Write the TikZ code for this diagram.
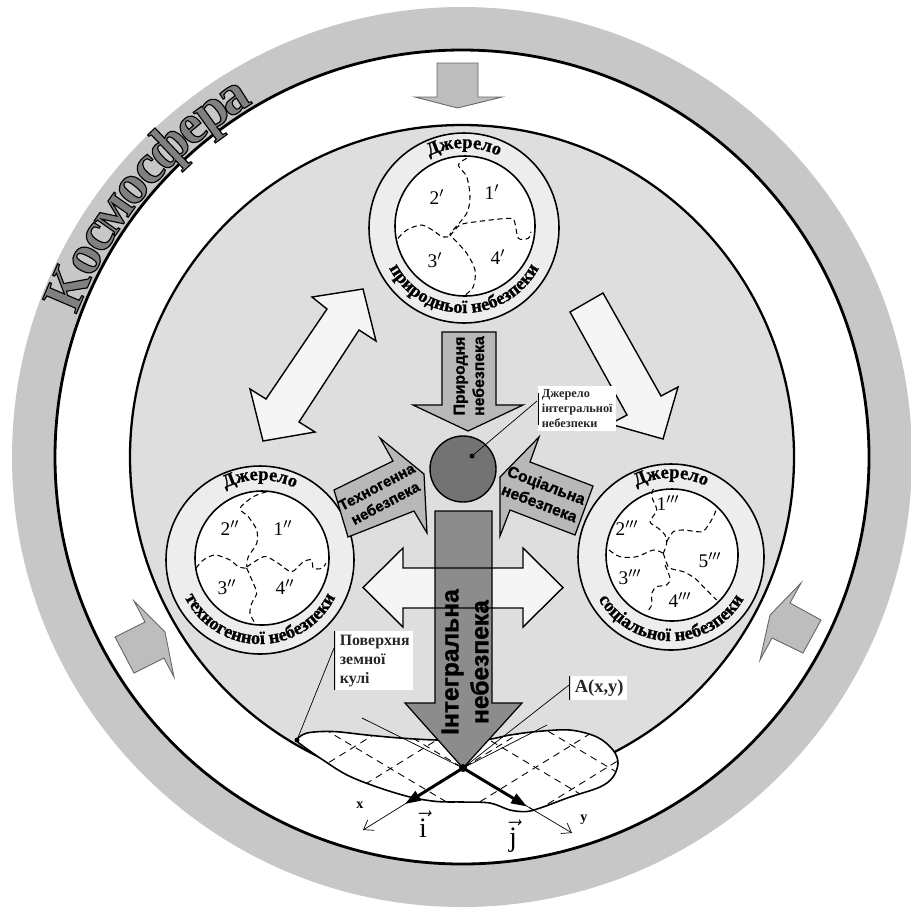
\documentclass[tikz,border=0pt]{standalone}
\usepackage{fontspec}
\setmainfont{Liberation Serif}
\newfontfamily\sansfam{Liberation Sans}[FakeBold=1.2]
\newfontfamily\cosmofont{Liberation Serif}[FakeBold=2]
\newfontfamily\ringfam{Liberation Serif}[FakeBold=1]
\usetikzlibrary{decorations.text,arrows.meta,calc}
\newcommand\myRingFont{\ringfam\bfseries\fontsize{10.5}{10.5}\selectfont}
\begin{document}
\begin{tikzpicture}[x=0.02cm,y=-0.02cm,
  outarrow/.style={draw=black,line width=0.8pt,fill=black!4,line join=miter},
  grayarrow/.style={draw=black!60,line width=0.5pt,fill=black!26,line join=miter},
  dotarrow/.style={draw=black,line width=0.7pt,fill=black!28,line join=miter},
  ringsrc/.style={draw=black,line width=0.9pt,fill=black!7},
  coresrc/.style={draw=black,line width=0.9pt,fill=white},
  zone/.style={line width=0.6pt,dash pattern=on 3pt off 2pt},
  num/.style={font=\fontsize{11}{11}\selectfont,inner sep=0pt},
  lbl/.style={fill=white,text=black!85,align=left,inner sep=2pt},
  leader/.style={line width=0.4pt},
  arrowtext/.style={font=\sansfam\bfseries\fontsize{8.5}{10.5}\selectfont,align=center,inner sep=0pt},
  gridline/.style={line width=0.5pt,dash pattern=on 4pt off 3pt},
  cosmo/.style={font=\cosmofont\bfseries\fontsize{32}{32}\selectfont,anchor=base,inner sep=0pt},
]
\useasboundingbox (0,0) rectangle (911,910);
\coordinate (C) at (462,457);
% spheres
\fill[black!22] (C) circle[radius=450];
\draw[line width=1.6pt,fill=white] (C) circle[radius=407];
\draw[line width=1.3pt,fill=black!13] (C) circle[radius=332];

% Kosmosfera, letter by letter along the outer ring
\foreach \ch/\ang [count=\i] in {К/156.9,о/152.3,с/148.9,м/145.0,о/140.9,с/137.5,ф/133.5,е/129.5,р/126.0,а/122.5}{
  \node[cosmo,rotate=\ang-90] (cosmo\i) at ($(C)+(-\ang:411)$) {\special{pdf:bcolor [0.5] [0]}\ch\special{pdf:ecolor}};
}

% gray arrows from cosmos
\draw[grayarrow] (437,63) -- (478,63) -- (478,97) -- (502,97) -- (457.5,108) -- (415,97) -- (437,97) -- cycle;
\draw[grayarrow] (134,601) -- (165,632) -- (174,677) -- (164,658) -- (134,673) -- (115,637) -- (145,622) -- cycle;
\draw[grayarrow] (801,583) -- (790,603) -- (821,620) -- (803,653) -- (772,638) -- (760,660) -- (770,615) -- cycle;

% outline arrows between sources
\draw[outarrow] (363,289) -- (376,341) -- (359,330) -- (299,422) -- (315,432) -- (263,441) -- (250,389) -- (266,399) -- (327,309) -- (312,297) -- cycle;
\draw[outarrow] (570,312) -- (603,293) -- (661,396) -- (678,387) -- (663,439) -- (610,424) -- (627,415) -- cycle;

% ---- source of natural danger (top)
\draw[ringsrc] (464,228) circle[radius=95];
\draw[coresrc] (465,226) circle[radius=70];
\draw[zone] plot[smooth] coordinates {(466.7,158.3) (458.3,165) (466.7,176.7) (470,196.7) (466.7,213.3) (451.7,231.7) (450,235)};
\draw[zone] plot[smooth] coordinates {(398,238.3) (406.7,230) (421.7,225) (435,231.7) (441.7,236.7) (450,236.7)};
\draw[zone] plot[smooth] coordinates {(450,236) (460,225) (476.7,221.7) (510,218.3) (515,223.3) (518.3,238.3) (528.3,238.3) (531,231.7)};
\draw[zone] plot[smooth] coordinates {(453.3,238.3) (466.7,253.3) (475,270) (473.3,286.7) (463.3,296.7)};
\node[num] (n1a) at (437,197) {2$'$};
\node[num] (n1b) at (492,192) {1$'$};
\node[num] (n1c) at (435,260) {3$'$};
\node[num] (n1d) at (498,257) {4$'$};
\path[decorate,decoration={text along path,text align=center,text={|\myRingFont|Джерело}}]
  (464,228) ++(160:80) arc[start angle=-200,end angle=20,radius=80];
\path[decorate,decoration={text along path,text align=center,text={|\myRingFont|природньої небезпеки}}]
  (464,228) ++(200:85) arc[start angle=200,end angle=-20,radius=85];

% ---- source of technogenic danger (left)
\draw[ringsrc] (260,560) circle[radius=94];
\draw[coresrc] (262,558) circle[radius=67];
\draw[zone] plot[smooth] coordinates {(266.7,491.7) (253.3,496.7) (240,508.3) (248.3,516.7) (256.7,530) (256.7,543.3) (248.3,556.7) (246.7,566.7)};
\draw[zone] plot[smooth] coordinates {(196,568.3) (203.3,560) (215,555) (230,560) (238.3,566.7) (246.7,568.3)};
\draw[zone] plot[smooth] coordinates {(246.7,567) (260,558.3) (266.7,556.7) (278.3,563.3) (291.7,571.7) (303.3,561.7) (311.7,560) (313.3,568.3) (321.7,568.3) (326,563.3)};
\draw[zone] plot[smooth] coordinates {(246.7,568) (253.3,583.3) (256.7,593.3) (251.7,603.3) (250,613.3) (255,623.3)};
\node[num] (n2a) at (230,528) {2$''$};
\node[num] (n2b) at (283,528) {1$''$};
\node[num] (n2c) at (227,587) {3$''$};
\node[num] (n2d) at (285,587) {4$''$};
\path[decorate,decoration={text along path,text align=center,text={|\myRingFont|Джерело}}]
  (260,560) ++(160:80) arc[start angle=-200,end angle=20,radius=80];
\path[decorate,decoration={text along path,text align=center,text={|\myRingFont|техногенної небезпеки}}]
  (260,560) ++(200:84) arc[start angle=200,end angle=-20,radius=84];

% ---- source of social danger (right)
\draw[ringsrc] (671,557) circle[radius=93];
\draw[coresrc] (672,555) circle[radius=66];
\draw[zone] plot[smooth] coordinates {(653.3,489) (651.7,496.7) (656.7,510) (650,521.7) (658.3,528.3) (665,535) (666.7,543.3) (663.3,553.3)};
\draw[zone] plot[smooth] coordinates {(609,550) (620,556.7) (636.7,556.7) (653.3,550) (663.3,553.3)};
\draw[zone] plot[smooth] coordinates {(666.7,541.7) (673.3,531.7) (683.3,530) (701.7,531.7) (708.3,525) (713.3,516.7) (716.7,508.3)};
\draw[zone] plot[smooth] coordinates {(663.3,553.3) (666.7,563.3) (670,568.3) (683.3,571.7) (695,578.3) (703.3,586.7) (710,593.3) (716.7,600)};
\draw[zone] plot[smooth] coordinates {(665,565) (670,578.3) (666.7,585) (656.7,586.7) (651.7,593.3) (651.7,605) (646.7,612)};
\node[num] (n3a) at (668,503) {1$'''$};
\node[num] (n3b) at (627,528) {2$'''$};
\node[num] (n3c) at (710,560) {5$'''$};
\node[num] (n3d) at (630,577) {3$'''$};
\node[num] (n3e) at (680,600) {4$'''$};
\path[decorate,decoration={text along path,text align=center,text={|\myRingFont|Джерело}}]
  (671,557) ++(160:79) arc[start angle=-200,end angle=20,radius=79];
\path[decorate,decoration={text along path,text align=center,text={|\myRingFont|соціальної небезпеки}}]
  (671,557) ++(200:84) arc[start angle=200,end angle=-20,radius=84];

% ---- earth surface
\coordinate (A) at (463,768);
\draw[line width=0.9pt,fill=white] plot[smooth cycle,tension=0.55] coordinates {(297,740) (307,733) (333,731.5) (367,735) (400,738) (437,740) (483,740) (510,735) (537,731.5) (570,730) (597,737) (613,750) (618,763) (613,777) (600,787) (570,797) (543,807) (527,811.5) (510,810) (490,803) (463,802) (437,801.5) (410,797) (377,787) (347,775) (323,760) (303,746)};
\begin{scope}
\clip plot[smooth cycle,tension=0.55] coordinates {(297,740) (307,733) (333,731.5) (367,735) (400,738) (437,740) (483,740) (510,735) (537,731.5) (570,730) (597,737) (613,750) (618,763) (613,777) (600,787) (570,797) (543,807) (527,811.5) (510,810) (490,803) (463,802) (437,801.5) (410,797) (377,787) (347,775) (323,760) (303,746)};
\foreach \k in {-5,...,5}{
  \draw[gridline] ($(A)+({\k*(-36)},{\k*22.3})+(-198,-118)$) -- ($(A)+({\k*(-36)},{\k*22.3})+(198,118)$);
  \draw[gridline] ($(A)+({\k*36.4},{\k*21.7})+(196,-121)$) -- ($(A)+({\k*36.4},{\k*21.7})+(-196,121)$);
}
\end{scope}

% ---- horizontal double arrow (fill), integral arrow, outline
\fill[black!4] (363,587.5) -- (403,548) -- (403,568) -- (523,568) -- (523,548) -- (563,587.5) -- (523,627) -- (523,608) -- (403,608) -- (403,627) -- cycle;
\draw[dotarrow,fill=black!45] (435,511) -- (492,511) -- (492,703) -- (522,703) -- (A) -- (405,703) -- (435,703) -- cycle;
\draw[line width=0.8pt,line join=miter] (363,587.5) -- (403,548) -- (403,568) -- (523,568) -- (523,548) -- (563,587.5) -- (523,627) -- (523,608) -- (403,608) -- (403,627) -- cycle;

% ---- natural, technogenic, social danger arrows
\draw[dotarrow] (442,332) -- (496,332) -- (496,405) -- (523,405) -- (468,431) -- (413,405) -- (442,405) -- cycle;
\draw[dotarrow] (380,438) -- (424,474) -- (427,533) -- (414,511) -- (348,537) -- (334,490) -- (393,461) -- cycle;
\draw[dotarrow] (539,437) -- (530,462) -- (593,486) -- (575,535) -- (510,510) -- (500,536) -- (500,477) -- cycle;
\node[arrowtext,rotate=90,font=\sansfam\bfseries\fontsize{9}{11}\selectfont] (tnat) at (469,376) {Природня\\небезпека};
\node[arrowtext,rotate=28] (ttech) at (381,495) {Техногенна\\небезпека};
\node[arrowtext,rotate=-21,font=\sansfam\bfseries\fontsize{9}{11}\selectfont] (tsoc) at (543,494) {Соціальна\\небезпека};
\node[arrowtext,rotate=90,font=\sansfam\bfseries\fontsize{14}{17}\selectfont] (tint) at (465,662) {Інтегральна\\небезпека};

% ---- source of integral danger
\draw[line width=0.8pt,fill=black!55] (463,469) circle[radius=33];
\coordinate (core) at (472,456);
\fill (core) circle[radius=2.5];
\node[lbl,anchor=north west,font=\bfseries\fontsize{7}{8.5}\selectfont] (srcint) at (538,386) {Джерело\\інтегральної\\небезпеки};
\draw[leader] ([yshift=-4pt]srcint.north west) -- ([yshift=4pt]srcint.south west);
\coordinate (srcend) at (537,401);
\draw[leader] (core) -- (srcend);

% ---- label of earth surface
\coordinate (surfpt) at (297,740);
\node[lbl,anchor=north west,font=\bfseries\fontsize{9}{10.8}\selectfont] (surf) at (336,631) {Поверхня\\земної\\кулі};
\draw[leader] ([xshift=-1pt]surf.north west) -- ([xshift=-1pt]surf.south west);
\coordinate (surfend) at (334,648);
\draw[leader] (surfend) -- (surfpt);
\fill (surfpt) circle[radius=2.5];

% ---- axes and point A
\coordinate (xe) at (363,830);
\coordinate (ye) at (572,833);
\coordinate (xb) at (547,725);
\coordinate (yb) at (362,718);
\coordinate (iv) at (405,804);
\coordinate (jv) at (527,806.5);
\draw[leader] (A) -- (xb);
\draw[leader] (A) -- (yb);
\draw[leader,-{Straight Barb[length=5pt,width=7pt]}] (A) -- (xe);
\draw[leader,-{Straight Barb[length=5pt,width=7pt]}] (A) -- (ye);
\draw[line width=1.7pt,-{Triangle[length=9pt,width=6pt]}] (A) -- (iv);
\draw[line width=1.7pt,-{Triangle[length=9pt,width=6pt]}] (A) -- (jv);
\fill (A) circle[radius=4];
\node[font=\bfseries\fontsize{8}{8}\selectfont,inner sep=0pt] (lx) at (360,805) {x};
\node[font=\bfseries\fontsize{8}{8}\selectfont,inner sep=0pt] (ly) at (584,820) {y};
\node[font=\fontsize{16}{16}\selectfont,inner sep=0pt] (li) at (423,824) {$\vec{\mathrm{i}}$};
\node[font=\fontsize{16}{16}\selectfont,inner sep=0pt] (lj) at (513,836) {$\vec{\mathrm{j}}$};
\node[lbl,anchor=west,font=\bfseries\fontsize{10.5}{12}\selectfont] (alab) at (571,688) {A(x,y)};
\draw[leader] ([xshift=-1pt]alab.north west) -- ([xshift=-1pt]alab.south west);
\coordinate (aend) at (569,685);
\draw[leader] (A) -- (aend);
\end{tikzpicture}
\end{document}
